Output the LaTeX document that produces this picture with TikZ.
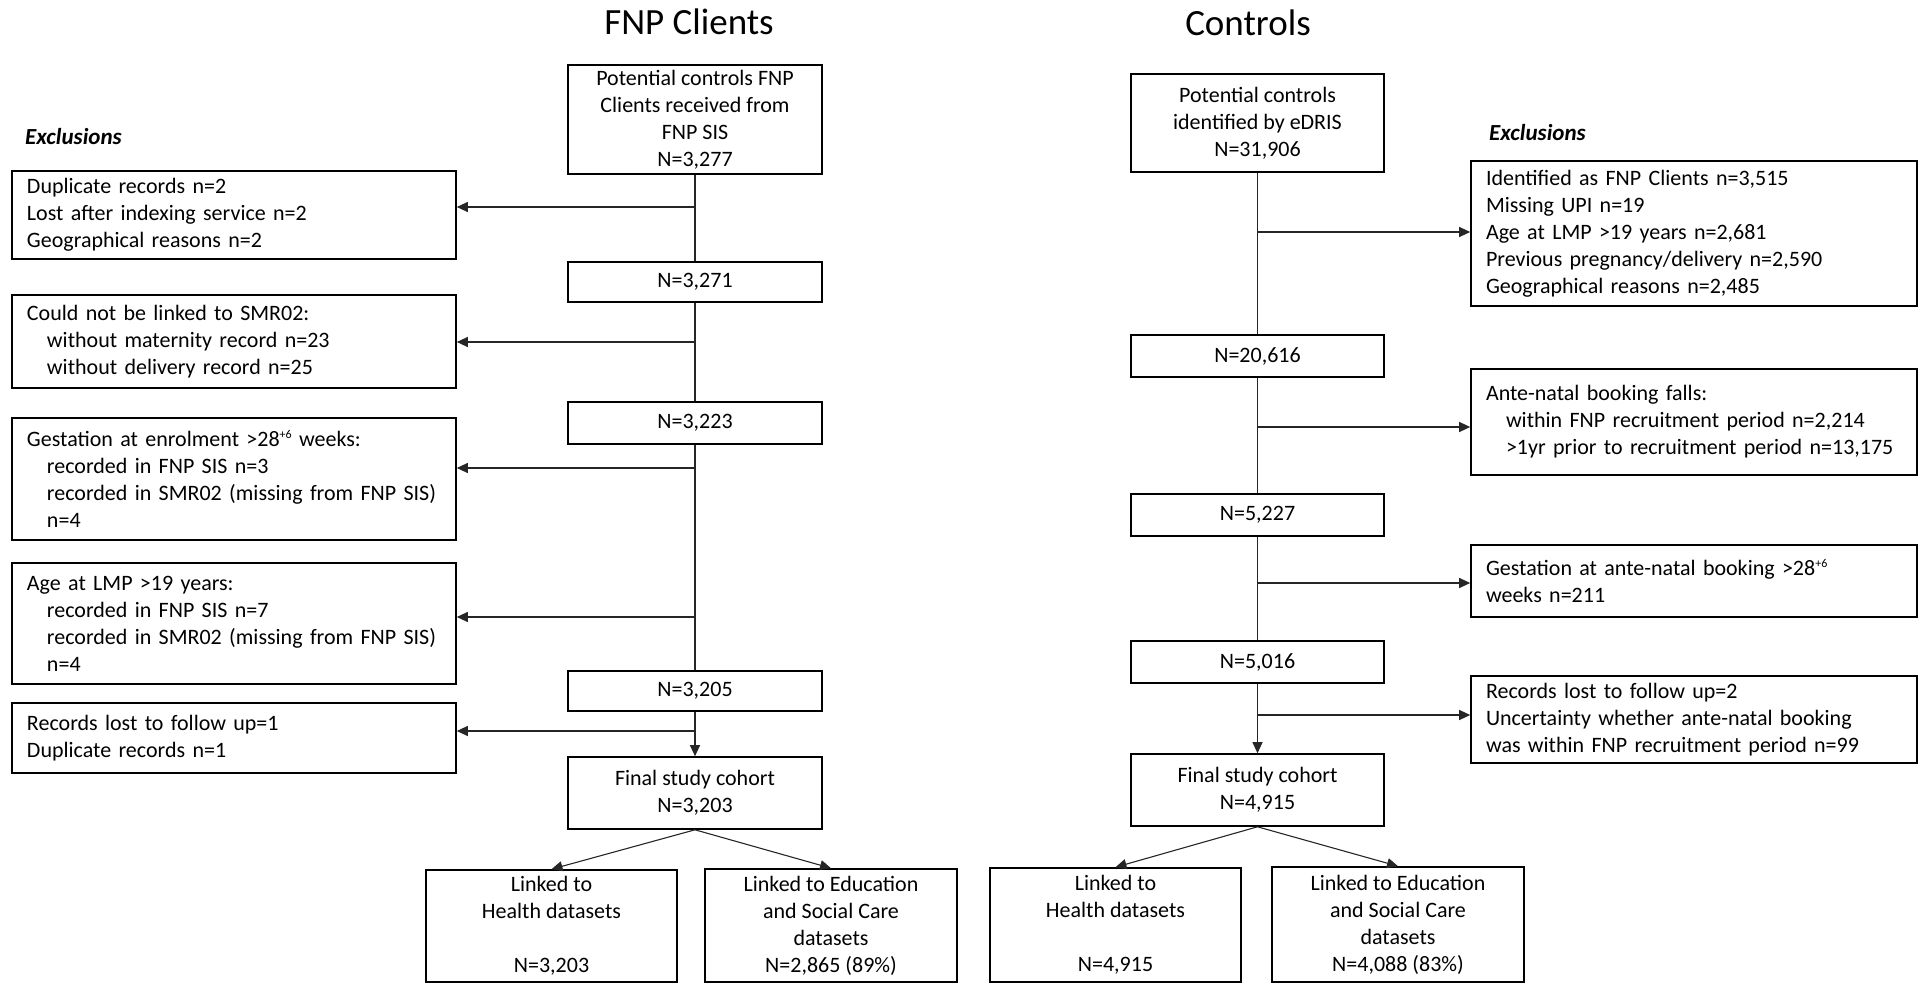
\documentclass[tikz,border=0pt]{standalone}
\usepackage{fontspec}
\setmainfont{Carlito}
\usetikzlibrary{arrows.meta}
\newcommand{\ind}{\hspace*{20pt}}
\newcommand{\supsix}{\raisebox{0.75ex}{\fontsize{12}{12}\selectfont +6}}
\begin{document}
\begin{tikzpicture}[x=1pt,y=-1pt,
  txt/.style={font=\fontsize{22}{27}\selectfont},
  box/.style={txt, draw=black, line width=1.6pt, rectangle, inner sep=0pt, align=center},
  excl/.style={txt, draw=black, line width=1.6pt, rectangle, inner xsep=15pt, inner ysep=0pt, align=left},
  conn/.style={line width=1.1pt, draw=black!85},
  arr/.style={conn, -{Triangle[length=11pt,width=10pt]}},
  ttl/.style={font=\fontsize{37}{40}\selectfont},
  exh/.style={font=\fontsize{23}{26}\selectfont\bfseries\itshape, anchor=west, inner sep=0pt}
]
\useasboundingbox (0,0) rectangle (1919,984);

% titles
\node[ttl] (t1) at (689,22) {FNP Clients};
\node[ttl] (t2) at (1248,23) {Controls};
\node[exh] (x1) at (25,137) {Exclusions};
\node[exh] (x2) at (1489,133) {Exclusions};

% ---------- left column ----------
\node[box, minimum width=254, minimum height=109] (A0) at (695,119.5)
  {Potential controls FNP\\Clients received from\\FNP SIS\\N=3,277};
\node[box, minimum width=254, minimum height=40] (A1) at (695,282) {N=3,271};
\node[box, minimum width=254, minimum height=42] (A2) at (695,423) {N=3,223};
\node[box, minimum width=254, minimum height=40] (A3) at (695,691) {N=3,205};
\node[box, minimum width=254, minimum height=72] (A4) at (695,793)
  {Final study cohort\\N=3,203};
\node[box, minimum width=251, minimum height=112] (HL) at (551.5,926)
  {Linked to\\Health datasets\\ \\N=3,203};
\node[box, minimum width=252, minimum height=113] (EL) at (831,925.5)
  {Linked to Education\\and Social Care\\datasets\\N=2,865 (89\%)};

\node[excl, text width=414, minimum height=88] (E1) at (234,215)
  {Duplicate records n=2\\Lost after indexing service n=2\\Geographical reasons n=2};
\node[excl, text width=414, minimum height=93] (E2) at (234,341.5)
  {Could not be linked to SMR02:\\\ind without maternity record n=23\\\ind without delivery record n=25};
\node[excl, text width=414, minimum height=122] (E3) at (234,479)
  {Gestation at enrolment >28\supsix{} weeks:\\\ind recorded in FNP SIS n=3\\\ind recorded in SMR02 (missing from FNP SIS)\\\ind n=4};
\node[excl, text width=414, minimum height=121] (E4) at (234,623.5)
  {Age at LMP >19 years:\\\ind recorded in FNP SIS n=7\\\ind recorded in SMR02 (missing from FNP SIS)\\\ind n=4};
\node[excl, text width=414, minimum height=70] (E5) at (234,738)
  {Records lost to follow up=1\\Duplicate records n=1};

\coordinate (a1) at (695,207);
\coordinate (a2) at (695,342);
\coordinate (a3) at (695,468);
\coordinate (a4) at (695,617);
\coordinate (a5) at (695,731);

\draw[conn] (A0) -- (A1);
\draw[conn] (A1) -- (A2);
\draw[conn] (A2) -- (A3);
\draw[arr] (A3) -- (A4);
\draw[arr] (a1) -- (E1.east |- a1);
\draw[arr] (a2) -- (E2.east |- a2);
\draw[arr] (a3) -- (E3.east |- a3);
\draw[arr] (a4) -- (E4.east |- a4);
\draw[arr] (a5) -- (E5.east |- a5);
\draw[arr] (A4.south) -- (HL.north);
\draw[arr] (A4.south) -- (EL.north);

% ---------- right column ----------
\node[box, minimum width=253, minimum height=98] (B0) at (1257.5,123)
  {Potential controls\\identified by eDRIS\\N=31,906};
\node[box, minimum width=253, minimum height=42] (B1) at (1257.5,356) {N=20,616};
\node[box, minimum width=253, minimum height=42] (B2) at (1257.5,515) {N=5,227};
\node[box, minimum width=253, minimum height=42] (B3) at (1257.5,662) {N=5,016};
\node[box, minimum width=253, minimum height=72] (B4) at (1257.5,790)
  {Final study cohort\\N=4,915};
\node[box, minimum width=251, minimum height=114] (HR) at (1115.5,925)
  {Linked to\\Health datasets\\ \\N=4,915};
\node[box, minimum width=252, minimum height=115] (ER) at (1398,924.5)
  {Linked to Education\\and Social Care\\datasets\\N=4,088 (83\%)};

\node[excl, text width=416, minimum height=145] (F1) at (1694,233.5)
  {Identified as FNP Clients n=3,515\\Missing UPI n=19\\Age at LMP >19 years n=2,681\\Previous pregnancy/delivery n=2,590\\Geographical reasons n=2,485};
\node[excl, text width=416, minimum height=106] (F2) at (1694,422)
  {Ante-natal booking falls:\\\ind within FNP recruitment period n=2,214\\\ind >1yr prior to recruitment period n=13,175};
\node[excl, text width=416, minimum height=72] (F3) at (1694,581)
  {Gestation at ante-natal booking >28\supsix\\weeks n=211};
\node[excl, text width=416, minimum height=87] (F4) at (1694,719.5)
  {Records lost to follow up=2\\Uncertainty whether ante-natal booking\\was within FNP recruitment period n=99};

\coordinate (b1) at (1257.5,232);
\coordinate (b2) at (1257.5,427);
\coordinate (b3) at (1257.5,583);
\coordinate (b4) at (1257.5,715);

\draw[conn] (B0) -- (B1);
\draw[conn] (B1) -- (B2);
\draw[conn] (B2) -- (B3);
\draw[arr] (B3) -- (B4);
\draw[arr] (b1) -- (F1.west |- b1);
\draw[arr] (b2) -- (F2.west |- b2);
\draw[arr] (b3) -- (F3.west |- b3);
\draw[arr] (b4) -- (F4.west |- b4);
\draw[arr] (B4.south) -- (HR.north);
\draw[arr] (B4.south) -- (ER.north);
\end{tikzpicture}
\end{document}
